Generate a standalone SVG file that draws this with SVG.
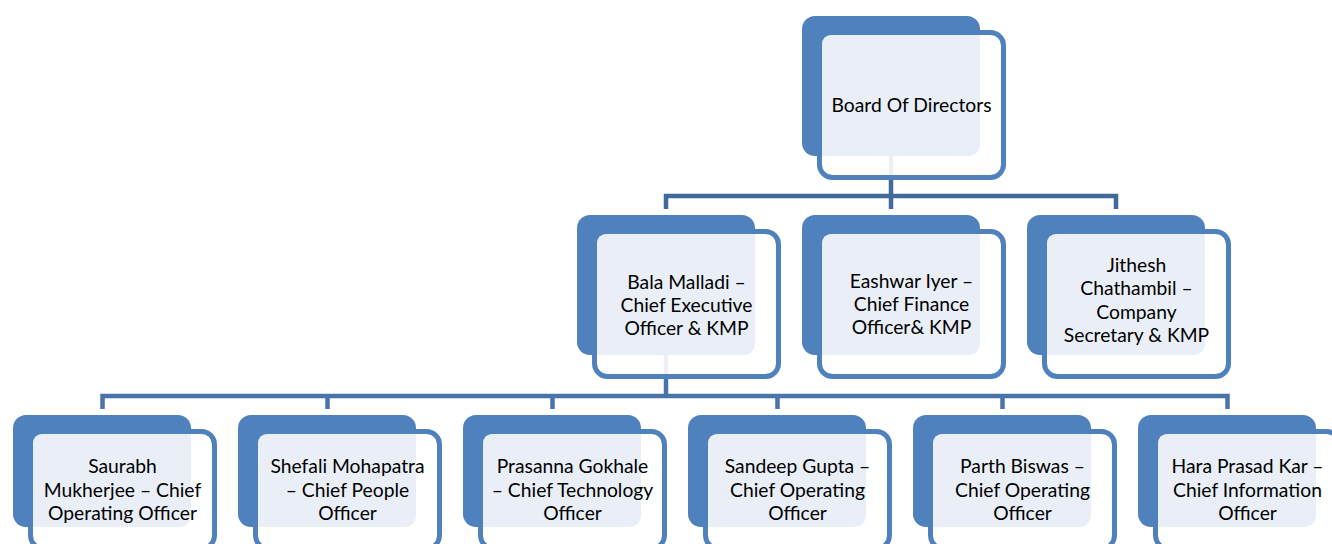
<svg xmlns="http://www.w3.org/2000/svg" width="1332" height="544" viewBox="0 0 1332 544">
<style>
.back{fill:#4F81BD}
.front{fill:#FFFFFF;fill-opacity:0.9;stroke:#4F81BD;stroke-width:5}
.light{fill:#EAEFF7}
.t{font-family:Lato,"Liberation Sans",sans-serif;font-size:19.3px;fill:#000;text-anchor:middle}
.c1{fill:none;stroke:#41699B;stroke-width:4.5}
.c2{fill:none;stroke:#4874AA;stroke-width:4.5}
</style>
<rect width="1332" height="544" fill="#FFFFFF"/>
<g id="connectors">
<path class="c1" d="M891,150 V196"/>
<path class="c1" d="M666,209 V196 H1116 V209"/>
<path class="c1" d="M891,196 V209"/>
<path class="c2" d="M666,350 V396"/>
<path class="c2" d="M102.5,409 V396 H1227.5 V409"/>
<path class="c2" d="M327.5,396 V409 M552.5,396 V409 M777.5,396 V409 M1002.5,396 V409"/>
</g>
<g id="board">
<rect class="back" x="802" y="16" width="178" height="140" rx="13"/>
<rect class="front" x="819.5" y="32.5" width="184" height="145" rx="13"/>
<path class="light" d="M822,45 Q822,35 832,35 H980 V143 Q980,156 967,156 H822 Z"/>
<text class="t" x="911.5" y="111.7">Board Of Directors</text>
</g>
<g id="bala">
<rect class="back" x="577" y="215" width="178" height="140" rx="13"/>
<rect class="front" x="594.5" y="231.5" width="184" height="145" rx="13"/>
<path class="light" d="M597,244 Q597,234 607,234 H755 V342 Q755,355 742,355 H597 Z"/>
<text class="t" x="686.5" y="288.5">Bala Malladi –</text>
<text class="t" x="686.5" y="311.5">Chief Executive</text>
<text class="t" x="686.5" y="334.5">Officer &amp; KMP</text>
</g>
<g id="eashwar">
<rect class="back" x="802" y="215" width="178" height="140" rx="13"/>
<rect class="front" x="819.5" y="231.5" width="184" height="145" rx="13"/>
<path class="light" d="M822,244 Q822,234 832,234 H980 V342 Q980,355 967,355 H822 Z"/>
<text class="t" x="911.5" y="287.5">Eashwar Iyer –</text>
<text class="t" x="911.5" y="310.5">Chief Finance</text>
<text class="t" x="911.5" y="333.5">Officer&amp; KMP</text>
</g>
<g id="jithesh">
<rect class="back" x="1027" y="215" width="178" height="140" rx="13"/>
<rect class="front" x="1044.5" y="231.5" width="184" height="145" rx="13"/>
<path class="light" d="M1047,244 Q1047,234 1057,234 H1205 V342 Q1205,355 1192,355 H1047 Z"/>
<text class="t" x="1136.5" y="272">Jithesh</text>
<text class="t" x="1136.5" y="295">Chathambil –</text>
<text class="t" x="1136.5" y="318.5">Company</text>
<text class="t" x="1136.5" y="342">Secretary &amp; KMP</text>
</g>
<g id="saurabh">
<rect class="back" x="13" y="415" width="178" height="112" rx="13"/>
<rect class="front" x="30.5" y="431.5" width="184" height="117" rx="13"/>
<path class="light" d="M33,444 Q33,434 43,434 H191 V514 Q191,527 178,527 H33 Z"/>
<text class="t" x="122.5" y="473.3">Saurabh</text>
<text class="t" x="122.5" y="496.5">Mukherjee – Chief</text>
<text class="t" x="122.5" y="519.5">Operating Officer</text>
</g>
<g id="shefali">
<rect class="back" x="238" y="415" width="178" height="112" rx="13"/>
<rect class="front" x="255.5" y="431.5" width="184" height="117" rx="13"/>
<path class="light" d="M258,444 Q258,434 268,434 H416 V514 Q416,527 403,527 H258 Z"/>
<text class="t" x="347.5" y="473.3">Shefali Mohapatra</text>
<text class="t" x="347.5" y="496.5">– Chief People</text>
<text class="t" x="347.5" y="519.5">Officer</text>
</g>
<g id="prasanna">
<rect class="back" x="463" y="415" width="178" height="112" rx="13"/>
<rect class="front" x="480.5" y="431.5" width="184" height="117" rx="13"/>
<path class="light" d="M483,444 Q483,434 493,434 H641 V514 Q641,527 628,527 H483 Z"/>
<text class="t" x="572.5" y="473.3">Prasanna Gokhale</text>
<text class="t" x="572.5" y="496.5">– Chief Technology</text>
<text class="t" x="572.5" y="519.5">Officer</text>
</g>
<g id="sandeep">
<rect class="back" x="688" y="415" width="178" height="112" rx="13"/>
<rect class="front" x="705.5" y="431.5" width="184" height="117" rx="13"/>
<path class="light" d="M708,444 Q708,434 718,434 H866 V514 Q866,527 853,527 H708 Z"/>
<text class="t" x="797.5" y="473.3">Sandeep Gupta –</text>
<text class="t" x="797.5" y="496.5">Chief Operating</text>
<text class="t" x="797.5" y="519.5">Officer</text>
</g>
<g id="parth">
<rect class="back" x="913" y="415" width="178" height="112" rx="13"/>
<rect class="front" x="930.5" y="431.5" width="184" height="117" rx="13"/>
<path class="light" d="M933,444 Q933,434 943,434 H1091 V514 Q1091,527 1078,527 H933 Z"/>
<text class="t" x="1022.5" y="473.3">Parth Biswas –</text>
<text class="t" x="1022.5" y="496.5">Chief Operating</text>
<text class="t" x="1022.5" y="519.5">Officer</text>
</g>
<g id="hara">
<rect class="back" x="1138" y="415" width="178" height="112" rx="13"/>
<rect class="front" x="1155.5" y="431.5" width="184" height="117" rx="13"/>
<path class="light" d="M1158,444 Q1158,434 1168,434 H1316 V514 Q1316,527 1303,527 H1158 Z"/>
<text class="t" x="1247.5" y="473.3">Hara Prasad Kar –</text>
<text class="t" x="1247.5" y="496.5">Chief Information</text>
<text class="t" x="1247.5" y="519.5">Officer</text>
</g>
</svg>
